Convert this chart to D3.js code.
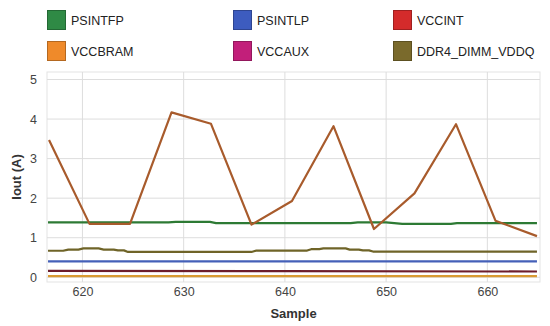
<!DOCTYPE html>
<html>
<head>
<meta charset="utf-8">
<script src="https://cdn.jsdelivr.net/npm/d3@7"></script>
<style>
  body { margin: 0; background: #fff; }
  text { font-family: Arial, "Liberation Sans", sans-serif; }
</style>
</head>
<body>
<div id="chartArea"></div>
<script>
// legend entries
const seriesNames = ["PSINTFP", "PSINTLP", "VCCINT", "VCCBRAM", "VCCAUX", "DDR4_DIMM_VDDQ"];
const legendColors = ["#2f8a45", "#3d5cbf", "#d42b2b", "#ef8a2a", "#c21f7a", "#7a6a2c"];

// y axis / x axis ticks
const yTicks = [0, 1, 2, 3, 4, 5];
const xTicks = [620, 630, 640, 650, 660];

// VCCINT (spiky line)
const vccintX = [616.7, 620.7, 624.7, 628.8, 632.7, 636.7, 640.7, 644.8, 648.8, 652.8, 656.9, 660.8, 664.9];
const vccintY = [3.47, 1.35, 1.35, 4.17, 3.88, 1.33, 1.93, 3.82, 1.22, 2.12, 3.87, 1.43, 1.04];

// PSINTFP
const psintfpX = [616.6, 628.5, 629.2, 632.6, 633.2, 646.5, 647.2, 650, 651.6, 656.4, 657, 664.9];
const psintfpY = [1.39, 1.39, 1.40, 1.40, 1.37, 1.37, 1.39, 1.39, 1.35, 1.35, 1.37, 1.37];

// DDR4_DIMM_VDDQ
const ddrX = [616.6, 618.1, 618.6, 619.6, 620.1, 621.6, 622.1, 623.1, 623.5, 624.1, 624.5, 636.7, 637.2, 642.2, 642.6, 643.4, 643.8, 646, 646.4, 647.3, 647.7, 648.3, 648.7, 664.9];
const ddrY = [0.67, 0.67, 0.70, 0.70, 0.73, 0.73, 0.70, 0.70, 0.68, 0.68, 0.64, 0.64, 0.675, 0.675, 0.71, 0.71, 0.73, 0.73, 0.70, 0.70, 0.68, 0.68, 0.65, 0.65];

// flat ones
const psintlpX = [616.6, 664.9];
const psintlpY = [0.40, 0.40];
const vccauxX = [616.6, 640, 664.9];
const vccauxY = [0.16, 0.155, 0.145];
const vccbramX = [616.6, 664.9];
const vccbramY = [0.03, 0.03];

const W = 550, H = 326;
const margin = { top: 72, right: 10, bottom: 44, left: 47 };
const width = W - margin.left - margin.right,
    height = H - margin.top - margin.bottom;

const svg = d3.select("#chartArea").append("svg")
    .attr("width", W)
    .attr("height", H);

// legend
const legendCols = [47, 233, 393];
const legend = svg.append("g");
seriesNames.forEach((name, i) => {
    const col = i % 3, row = Math.floor(i / 3);
    const g = legend.append("g")
        .attr("transform", `translate(${legendCols[col]}, ${10 + row * 31})`);
    g.append("rect")
        .attr("x", 0.5).attr("y", 0.5)
        .attr("width", 18).attr("height", 19)
        .style("fill", legendColors[i])
        .style("stroke", d3.color(legendColors[i]).darker(0.8));
    g.append("text")
        .attr("x", 24)
        .attr("y", 10)
        .attr("dy", "0.36em")
        .style("font-size", "12.5px")
        .style("fill", "#222")
        .text(name);
});

const plot = svg.append("g")
    .attr("transform", `translate(${margin.left},${margin.top})`);

const x = d3.scaleLinear().domain([616.5, 665.2]).range([0, width]);
const y = d3.scaleLinear().domain([-0.12, 5.19]).range([height, 0]);

// border + grid
plot.append("rect")
    .attr("width", width).attr("height", height)
    .style("fill", "none").style("stroke", "#e3e3e3");

plot.append("g")
    .selectAll("line.h")
    .data(yTicks)
    .enter().append("line")
    .attr("x1", 0).attr("x2", width)
    .attr("y1", d => y(d)).attr("y2", d => y(d))
    .style("stroke", "#dddddd");

plot.append("g")
    .selectAll("line.v")
    .data(xTicks)
    .enter().append("line")
    .attr("x1", d => x(d)).attr("x2", d => x(d))
    .attr("y1", 0).attr("y2", height)
    .style("stroke", "#dddddd");

// axes (labels only)
const yAxis = plot.append("g").call(d3.axisLeft(y).tickValues(yTicks).tickFormat(d3.format("d")).tickSize(0).tickPadding(10));
yAxis.select(".domain").remove();
yAxis.selectAll("text").style("font-size", "12.5px").style("fill", "#444")
    .style("font-family", "Arial, 'Liberation Sans', sans-serif");

const xAxis = plot.append("g")
    .attr("transform", `translate(0, ${height})`)
    .call(d3.axisBottom(x).tickValues(xTicks).tickFormat(d3.format("d")).tickSize(0).tickPadding(5));
xAxis.select(".domain").remove();
xAxis.selectAll("text").style("font-size", "12.5px").style("fill", "#444")
    .style("font-family", "Arial, 'Liberation Sans', sans-serif");

// axis titles
svg.append("text")
    .attr("transform", `translate(21, ${margin.top + height / 2}) rotate(-90)`)
    .attr("text-anchor", "middle")
    .style("font-size", "13px")
    .style("font-weight", "bold")
    .style("fill", "#333")
    .text("Iout (A)");

svg.append("text")
    .attr("x", margin.left + width / 2)
    .attr("y", 318)
    .attr("text-anchor", "middle")
    .style("font-size", "13px")
    .style("font-weight", "bold")
    .style("fill", "#333")
    .text("Sample");

// lines
const line = d3.line().x(d => x(d[0])).y(d => y(d[1]));
const zipXY = (xs, ys) => xs.map((v, i) => [v, ys[i]]);

const lines = [
    { xs: vccbramX, ys: vccbramY, color: "#d99a32" },
    { xs: vccauxX, ys: vccauxY, color: "#6d1d2c" },
    { xs: psintlpX, ys: psintlpY, color: "#4560b8" },
    { xs: ddrX, ys: ddrY, color: "#6f6428" },
    { xs: psintfpX, ys: psintfpY, color: "#2d7a34" },
    { xs: vccintX, ys: vccintY, color: "#a85b2c" }
];

lines.forEach(s => {
    plot.append("path")
        .datum(zipXY(s.xs, s.ys))
        .attr("d", line)
        .style("fill", "none")
        .style("stroke", s.color)
        .style("stroke-width", 2.2)
        .style("stroke-linejoin", "round");
});
</script>
</body>
</html>
